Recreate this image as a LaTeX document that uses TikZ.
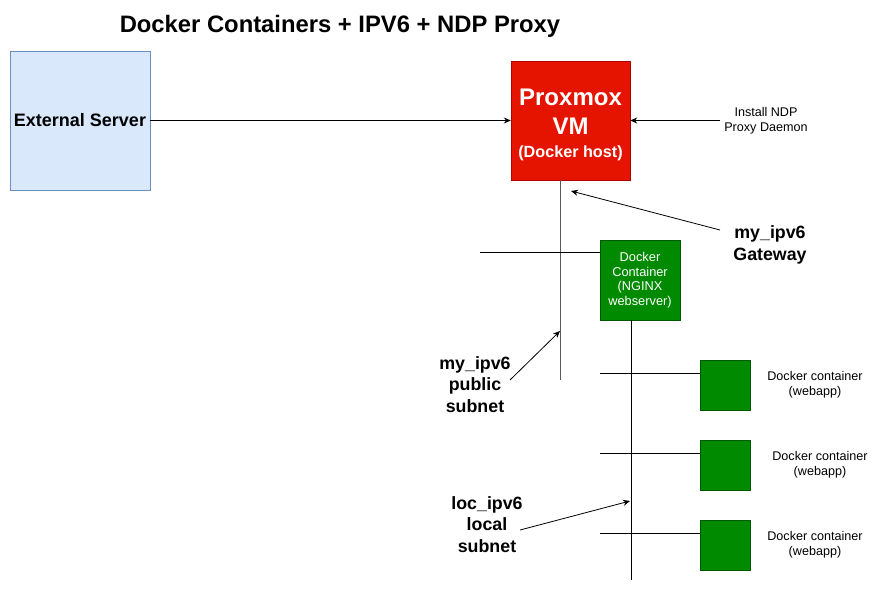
\documentclass[tikz,border=0pt]{standalone}
\usepackage{fontspec}
\setmainfont{Liberation Sans}
\usepackage{tikz}
\usetikzlibrary{arrows.meta}
\definecolor{srvfill}{HTML}{DAE8FC}
\definecolor{srvdraw}{HTML}{6C8EBF}
\definecolor{vmfill}{HTML}{E51400}
\definecolor{vmdraw}{HTML}{B20000}
\definecolor{ctfill}{HTML}{008A00}
\definecolor{ctdraw}{HTML}{005700}

\begin{document}
\begin{tikzpicture}[
  x=1pt, y=-1pt,
  every node/.style={inner sep=0pt, align=center},
  server box/.style={draw=srvdraw, fill=srvfill, minimum width=140pt, minimum height=139pt,
    font=\fontsize{18}{22}\selectfont\bfseries},
  vm box/.style={draw=vmdraw, fill=vmfill, text=white, minimum width=119pt, minimum height=119pt},
  vm text/.style={text=white, font=\fontsize{24}{29}\selectfont\bfseries},
  container box/.style={draw=ctdraw, fill=ctfill, text=white, minimum width=80pt, minimum height=80pt,
    font=\fontsize{12.8}{14.5}\selectfont},
  webapp box/.style={draw=ctdraw, fill=ctfill, minimum width=50pt, minimum height=50pt},
  big label/.style={font=\fontsize{17.8}{21.5}\selectfont\bfseries},
  small label/.style={font=\fontsize{12.6}{15}\selectfont},
  link/.style={draw, line width=0.8pt},
  arrow/.style={link, -{Stealth[length=7pt, width=6pt]}}
]
\useasboundingbox (0,0) rectangle (891,592);
% title
\node (title) at (340,26) {\fontsize{23.8}{28}\selectfont\bfseries Docker Containers + IPV6 + NDP Proxy};
% hosts
\node[server box] (ext) at (80,120.5) {External Server};
\node[vm box] (vm) at (570.5,120.5) {};
\node[vm text] (vmlabel) at (570.5,124.5) {Proxmox\\VM\\[-6pt]
  {\fontsize{16.2}{19}\selectfont (Docker host)}};
\node[small label] (ndp) at (766,120.5) {Install NDP\\Proxy Daemon};
\node[container box] (nginx) at (640,280) {Docker\\Container\\(NGINX\\webserver)};
\foreach \i/\y/\lx in {1/385/815, 2/465/820, 3/545/815} {
  \node[webapp box] (app\i) at (725,\y) {};
  \node[small label] (applabel\i) at (\lx,\y) {Docker container\\(webapp)};
}
% subnets
\coordinate (pubtop) at (560,180);
\coordinate (pubend) at (560,380);
\coordinate (publeft) at (480,252);
\coordinate (loctop) at (631,320);
\coordinate (locend) at (631,580);
\draw[link, gray!70!black] (pubtop) -- (pubend);
\draw[link] (publeft) -- (nginx.west |- publeft);
\draw[link] (loctop) -- (locend);
\foreach \i in {1,2,3} {
  \coordinate (tap\i) at ([yshift=12pt]app\i.west);
  \draw[link] (tap\i -| 600,0) -- (tap\i);
}
% labels
\node[big label] (gw) at (770,245) {my\_ipv6\\Gateway};
\node[big label] (pub) at (475,384.5) {my\_ipv6\\public\\subnet};
\node[big label] (loc) at (487,524.5) {loc\_ipv6\\local\\subnet};
\coordinate (gwtip) at (571,191);
\coordinate (pubtip) at (560,331);
\coordinate (loctip) at (630,501);
% arrows
\draw[arrow] (ext) -- (vm.west |- ext);
\draw[arrow] (ndp.west -| 720,0) -- (vm.east |- ndp);
\draw[arrow] (720,230) -- (gwtip);
\draw[arrow] (510,380) -- (pubtip);
\draw[arrow] (520,530) -- (loctip);
\end{tikzpicture}
\end{document}
